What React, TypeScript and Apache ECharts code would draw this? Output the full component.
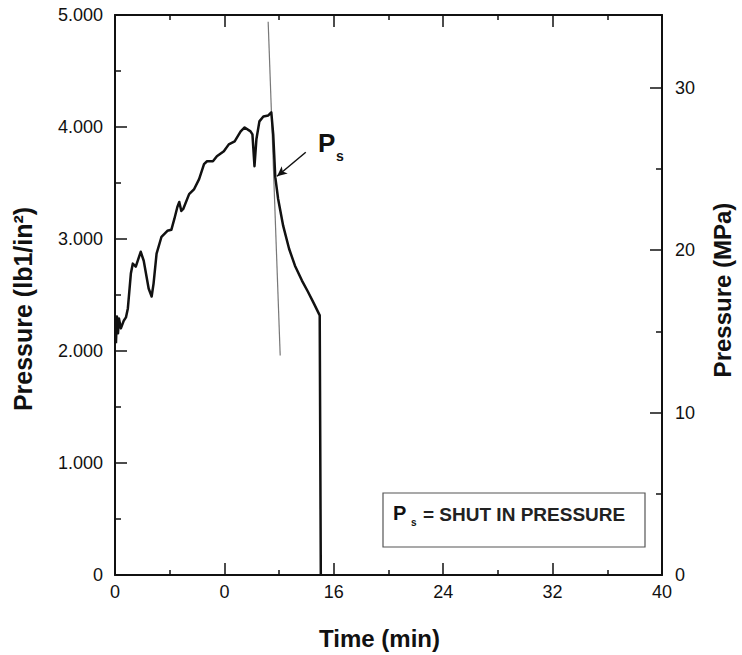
import React, { useEffect, useRef } from "react";
import * as echarts from "echarts";

// Measured curve: time (min) vs pressure (lbf/in²)
const timeMin = [
  0.07, 0.14, 0.22, 0.29, 0.43, 0.65, 0.8, 0.94, 1.16, 1.3, 1.52, 1.88, 2.1, 2.46, 2.68,
  2.82, 3.04, 3.4, 3.83, 4.12, 4.34, 4.56, 4.7, 4.85, 4.99, 5.42, 5.79, 6.15, 6.51, 6.73,
  7.16, 7.45, 7.96, 8.32, 8.75, 9.19, 9.48, 9.91, 10.05, 10.2, 10.34, 10.56, 10.85, 11.21,
  11.43, 11.57, 11.72, 11.93, 12.3, 12.73, 13.16, 13.67, 14.1, 14.54, 14.97, 15.05,
];
const pressurePsi = [
  2069, 2309, 2158, 2291, 2202, 2273, 2300, 2380, 2691, 2780, 2753, 2886, 2806, 2558, 2487,
  2602, 2869, 3020, 3073, 3082, 3179, 3286, 3330, 3250, 3268, 3401, 3446, 3535, 3668, 3694,
  3694, 3739, 3783, 3845, 3872, 3961, 3996, 3961, 3934, 3650, 3890, 4050, 4094, 4103,
  4130, 3934, 3552, 3357, 3117, 2913, 2762, 2629, 2531, 2425, 2318, 0,
];

// Thin tangent line used to pick the shut-in pressure
const tangentTime = [11.2, 12.08];
const tangentPsi = [4940, 1960];

// Arrow pointing at Ps
const arrowStart = [13.95, 3775];
const arrowEnd = [11.85, 3560];

const xTickValues = [0, 8, 16, 24, 32, 40];
const xTickLabels = ["0", "0", "16", "24", "32", "40"];
const psiTickValues = [0, 1000, 2000, 3000, 4000, 5000];
const psiTickLabels = ["0", "1.000", "2.000", "3.000", "4.000", "5.000"];
const mpaTickValues = [0, 10, 20, 30];
const mpaTickLabels = ["0", "10", "20", "30"];
const mpaMinorTickValues = [5, 15, 25];

const PSI_PER_MPA = 145.038;
const PSI_MAX = 5000;

const FONT = "'Liberation Sans', Arial, Helvetica, sans-serif";
const INK = "#111";

export default function App() {
  const ref = useRef<HTMLDivElement>(null);

  useEffect(() => {
    if (!ref.current) return;
    const chart = echarts.init(ref.current, undefined, { renderer: "svg" });

    const curve = timeMin.map((t, i) => [t, pressurePsi[i]]);
    const tangent = tangentTime.map((t, i) => [t, tangentPsi[i]]);
    const mpaMax = PSI_MAX / PSI_PER_MPA;

    const axisLine = (show = true) => ({
      show,
      onZero: false,
      lineStyle: { color: INK, width: 2 },
    });
    const tick = (len: number) => ({
      show: true,
      inside: true,
      length: len,
      lineStyle: { color: INK, width: 1.5 },
    });
    const minor = (len: number) => ({
      show: true,
      splitNumber: 2,
      length: len,
      lineStyle: { color: INK, width: 1.5 },
    });
    const labelStyle = () => ({ fontSize: 18, color: INK, fontFamily: FONT });
    const nameStyle = () => ({ fontSize: 24, fontWeight: "bold", color: INK, fontFamily: FONT });
    const blankLabel = () => ({ show: true, formatter: () => "", ...labelStyle() });

    chart.setOption({
      animation: false,
      backgroundColor: "#fff",
      grid: { left: 115, right: 74, top: 15, bottom: 77, containLabel: false },
      xAxis: [
        {
          type: "value",
          position: "bottom",
          min: 0,
          max: 40,
          interval: 8,
          axisLine: axisLine(),
          axisTick: tick(12),
          minorTick: minor(5),
          splitLine: { show: false },
          minorSplitLine: { show: false },
          axisLabel: {
            ...labelStyle(),
            margin: 8,
            formatter: (v: number) => {
              const i = xTickValues.indexOf(v);
              return i >= 0 ? xTickLabels[i] : "";
            },
          },
          name: "Time (min)",
          nameLocation: "middle",
          nameGap: 51,
          nameTextStyle: { ...nameStyle(), padding: [0, 18, 0, 0] },
        },
        {
          type: "value",
          position: "top",
          min: 0,
          max: 40,
          interval: 8,
          axisLine: axisLine(),
          axisTick: tick(12),
          minorTick: minor(5),
          splitLine: { show: false },
          minorSplitLine: { show: false },
          axisLabel: blankLabel(),
        },
      ],
      yAxis: [
        {
          type: "value",
          position: "left",
          min: 0,
          max: PSI_MAX,
          interval: 1000,
          axisLine: axisLine(),
          axisTick: tick(12),
          minorTick: minor(6),
          splitLine: { show: false },
          minorSplitLine: { show: false },
          axisLabel: {
            ...labelStyle(),
            margin: 12,
            formatter: (v: number) => {
              const i = psiTickValues.indexOf(v);
              return i >= 0 ? psiTickLabels[i] : "";
            },
          },
          name: "Pressure (lb1/in²)",
          nameLocation: "middle",
          nameRotate: 90,
          nameGap: 80,
          nameTextStyle: { ...nameStyle(), fontSize: 25, padding: [0, 28, 0, 0] },
        },
        {
          type: "value",
          position: "right",
          min: 0,
          max: mpaMax,
          axisLine: axisLine(),
          axisTick: { ...tick(12), customValues: mpaTickValues },
          splitLine: { show: false },
          axisLabel: {
            ...labelStyle(),
            margin: 13,
            customValues: mpaTickValues,
            formatter: (v: number) => {
              const r = Math.round(v);
              const i = Math.abs(v - r) < 1e-6 ? mpaTickValues.indexOf(r) : -1;
              return i >= 0 ? mpaTickLabels[i] : "";
            },
          },
          name: "Pressure (MPa)",
          nameLocation: "middle",
          nameRotate: 90,
          nameGap: 48,
          nameTextStyle: { ...nameStyle(), padding: [0, 0, 0, 10] },
        },
        {
          type: "value",
          position: "right",
          min: 0,
          max: mpaMax,
          axisLine: axisLine(false),
          axisTick: { ...tick(6), customValues: mpaMinorTickValues },
          splitLine: { show: false },
          axisLabel: { ...blankLabel(), customValues: mpaMinorTickValues },
        },
      ],
      series: [
        {
          type: "line",
          name: "tangent",
          xAxisIndex: 0,
          yAxisIndex: 0,
          data: tangent,
          showSymbol: false,
          symbol: "none",
          lineStyle: { color: "#777", width: 1.2 },
          z: 2,
        },
        {
          type: "line",
          name: "pressure",
          xAxisIndex: 0,
          yAxisIndex: 0,
          data: curve,
          showSymbol: false,
          symbol: "none",
          lineStyle: { color: INK, width: 2.5, join: "round" },
          z: 3,
          markLine: {
            silent: true,
            symbol: ["none", "arrow"],
            symbolSize: [7, 10],
            label: { show: false },
            lineStyle: { color: INK, width: 1.5, type: "solid" },
            data: [[{ coord: arrowStart }, { coord: arrowEnd }]],
          },
        },
      ],
      graphic: [
        {
          type: "text",
          x: 318,
          y: 143,
          style: { text: "P", font: `bold 26px ${FONT}`, fill: INK, verticalAlign: "middle" },
        },
        {
          type: "text",
          x: 336,
          y: 156,
          style: { text: "s", font: `bold 14px ${FONT}`, fill: INK, verticalAlign: "middle" },
        },
        {
          type: "rect",
          shape: { x: 383, y: 493, width: 262, height: 54 },
          style: { fill: "#fff", stroke: "#555", lineWidth: 1.2 },
          z: 10,
        },
        {
          type: "text",
          x: 393,
          y: 513,
          z: 11,
          style: { text: "P", font: `bold 20px ${FONT}`, fill: INK, verticalAlign: "middle" },
        },
        {
          type: "text",
          x: 411,
          y: 522,
          z: 11,
          style: { text: "s", font: `bold 10px ${FONT}`, fill: INK, verticalAlign: "middle" },
        },
        {
          type: "text",
          x: 423,
          y: 514,
          z: 11,
          style: {
            text: "= SHUT IN PRESSURE",
            font: `bold 19px ${FONT}`,
            fill: "#222",
            verticalAlign: "middle",
          },
        },
      ],
    });

    return () => chart.dispose();
  }, []);

  return (
    <div
      ref={ref}
      style={{ position: "absolute", left: 0, top: 0, width: 742, height: 655 }}
    />
  );
}
